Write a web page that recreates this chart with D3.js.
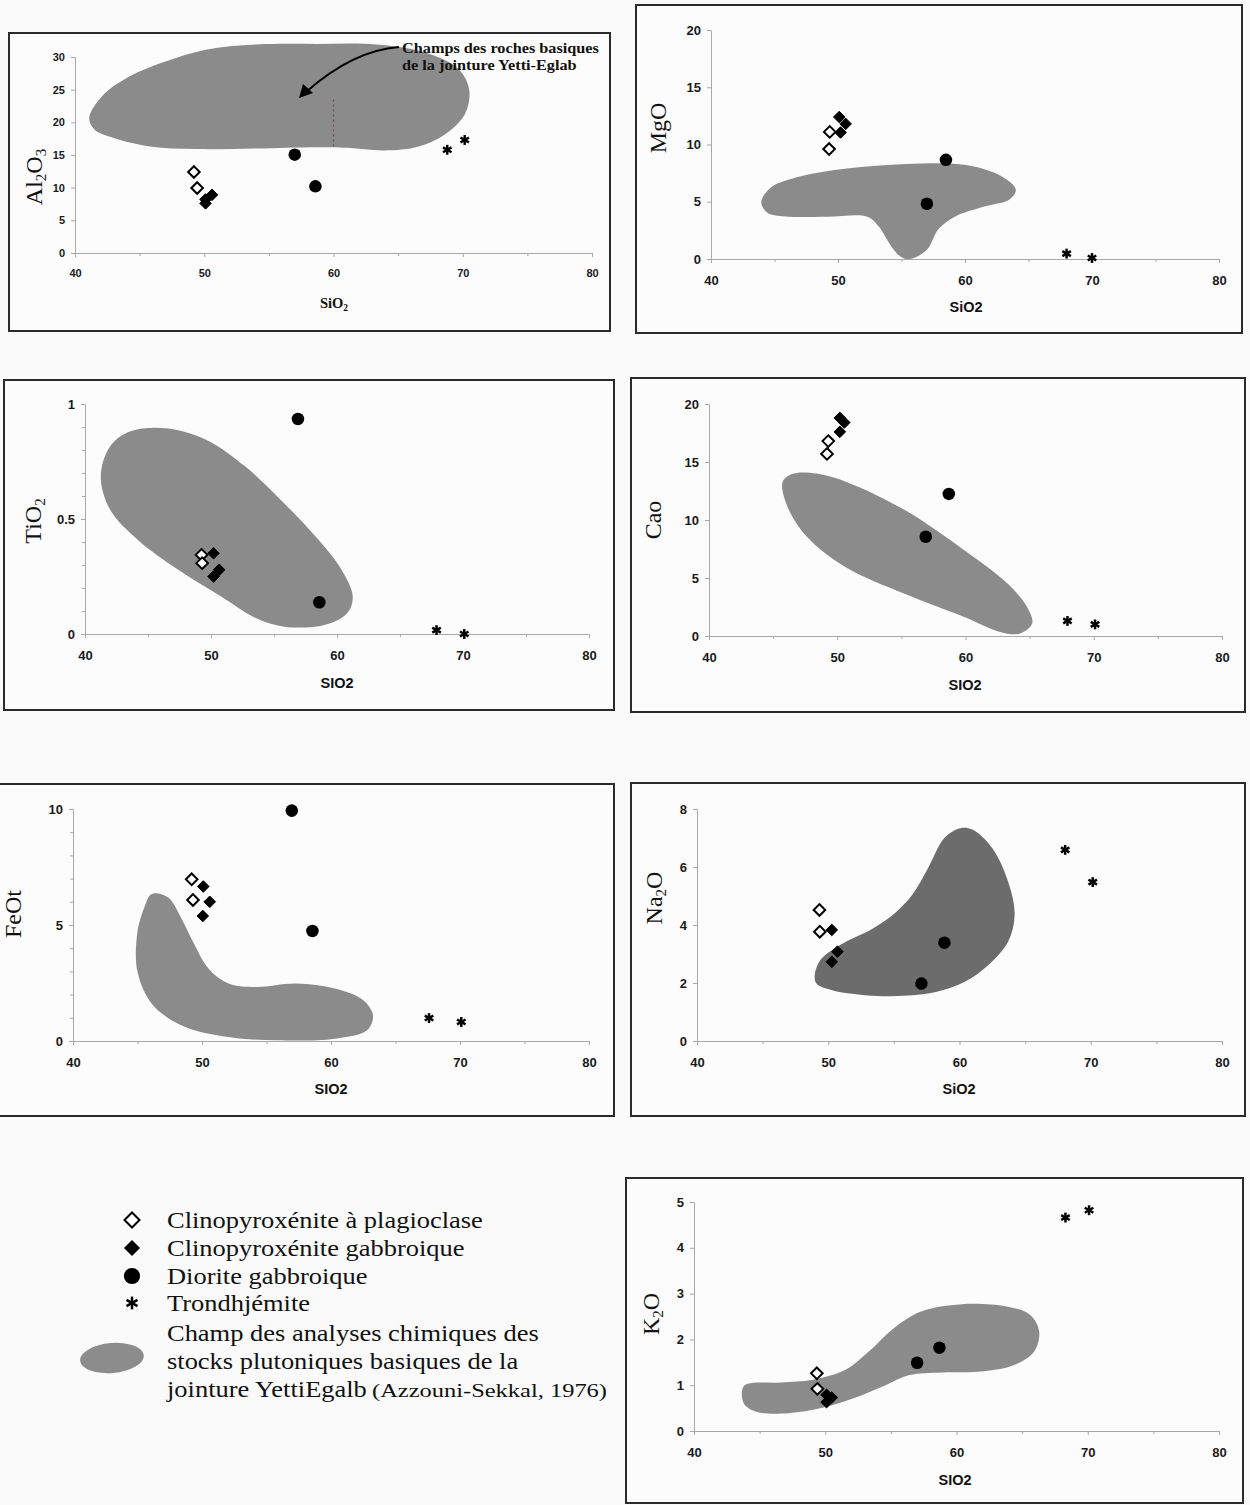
<!DOCTYPE html>
<html><head><meta charset="utf-8">
<script src="https://cdn.jsdelivr.net/npm/d3@7"></script>
<style>body{margin:0;background:#fafafa} svg{display:block}</style>
</head><body>
<svg id="fig" width="1250" height="1505"></svg>
<script>
// ---------------- DATA ----------------
const xTicks = [40, 50, 60, 70, 80];
const xMinorTicks = [45, 55, 65, 75];

const legendLabels = ["Clinopyroxénite à plagioclase", "Clinopyroxénite gabbroique", "Diorite gabbroique", "Trondhjémite"];
const legendGroups = ["plagio", "gabbroCpx", "diorite", "trond"];
const fieldLegendLines = ["Champ des analyses chimiques des", "stocks plutoniques basiques de la", "jointure YettiEgalb"];
const fieldLegendRef = "(Azzouni-Sekkal, 1976)";
const annotationLines = ["Champs des roches basiques", "de la jointure Yetti-Eglab"];

// points: [group, SiO2, oxide]
const al2o3Points = [["plagio",49.2,12.4],["plagio",49.45,9.95],["gabbroCpx",50.1,8.2],["gabbroCpx",50.6,8.9],["gabbroCpx",50.1,7.6],["diorite",57.0,15.05],["diorite",58.6,10.2],["trond",68.8,15.8],["trond",70.15,17.3]];
const mgoPoints = [["plagio",49.35,11.1],["plagio",49.3,9.6],["gabbroCpx",50.1,12.4],["gabbroCpx",50.6,11.8],["gabbroCpx",50.2,11.05],["diorite",58.5,8.66],["diorite",57.0,4.83],["trond",68.0,0.47],["trond",70.0,0.09]];
const tio2Points = [["plagio",49.25,0.344],["plagio",49.3,0.308],["gabbroCpx",50.2,0.351],["gabbroCpx",50.65,0.279],["gabbroCpx",50.2,0.25],["diorite",56.9,0.935],["diorite",58.6,0.138],["trond",67.9,0.017],["trond",70.1,0.0]];
const caoPoints = [["plagio",49.2,15.7],["plagio",49.3,16.8],["gabbroCpx",50.2,18.8],["gabbroCpx",50.55,18.4],["gabbroCpx",50.2,17.6],["diorite",58.7,12.25],["diorite",56.9,8.56],["trond",67.95,1.3],["trond",70.1,1.0]];
const feotPoints = [["plagio",49.2,6.97],["plagio",49.3,6.08],["gabbroCpx",50.1,6.66],["gabbroCpx",50.6,6.0],["gabbroCpx",50.06,5.39],["diorite",56.96,9.93],["diorite",58.56,4.74],["trond",67.6,0.99],["trond",70.1,0.82]];
const na2oPoints = [["plagio",49.33,4.52],["plagio",49.36,3.77],["gabbroCpx",50.27,3.83],["gabbroCpx",50.7,3.08],["gabbroCpx",50.27,2.73],["diorite",58.85,3.39],["diorite",57.1,1.98],["trond",68.05,6.59],["trond",70.15,5.48]];
const k2oPoints = [["plagio",49.36,1.26],["plagio",49.4,0.92],["gabbroCpx",50.1,0.79],["gabbroCpx",50.5,0.73],["gabbroCpx",50.1,0.63],["diorite",58.7,1.82],["diorite",57.0,1.49],["trond",68.3,4.66],["trond",70.1,4.82]];

// fields (Azzouni-Sekkal, 1976): [SiO2, oxide]
const al2o3Field = [[41.1,20.7],[42.1,24.0],[44.2,27.0],[47.0,29.3],[50.1,31.1],[54.0,31.9],[58.7,32.0],[63.3,31.9],[67.2,30.6],[69.7,28.1],[70.5,25.0],[70.2,21.4],[68.8,18.4],[66.6,16.3],[63.9,15.7],[61.1,16.1],[58.7,16.2],[54.0,16.0],[49.4,15.9],[45.8,16.3],[43.0,17.6],[41.5,18.9]];
const mgoField = [[44.0,5.2],[44.8,6.3],[47.0,7.2],[50.7,7.9],[55.4,8.3],[60.1,8.2],[62.9,7.2],[64.0,6.05],[63.5,5.2],[61.6,4.6],[59.2,3.7],[57.9,2.6],[57.0,0.8],[55.7,0.0],[55.0,0.15],[54.2,1.1],[53.2,2.85],[52.3,3.7],[49.2,3.7],[46.1,3.7],[44.5,4.0],[44.0,4.7]];
const tio2Field = [[41.25,0.685],[42.0,0.816],[43.6,0.881],[46.4,0.895],[49.6,0.845],[52.7,0.729],[55.8,0.569],[58.3,0.424],[60.2,0.293],[61.25,0.163],[60.8,0.09],[59.0,0.039],[55.8,0.032],[53.6,0.068],[50.8,0.163],[47.4,0.279],[44.2,0.409],[42.0,0.54]];
const caoField = [[45.75,13.3],[46.6,14.0],[48.4,14.0],[50.9,13.2],[55.2,10.9],[59.9,7.4],[63.3,4.5],[64.8,2.5],[65.2,1.07],[64.2,0.2],[62.7,0.35],[59.9,1.64],[55.2,3.66],[50.6,5.97],[47.6,8.6],[46.1,11.2]];
const feotField = [[46.5,6.37],[47.45,6.15],[48.4,5.29],[49.3,4.28],[50.5,3.13],[52.05,2.48],[54.2,2.33],[57.3,2.48],[60.3,2.26],[62.5,1.76],[63.25,1.11],[62.8,0.46],[60.3,0.1],[55.7,0.03],[52.05,0.17],[48.7,0.6],[46.2,1.54],[45.0,2.98],[45.0,4.71],[45.6,5.86],[46.0,6.3]];
const na2oField = [[48.97,2.27],[49.4,2.79],[50.9,3.31],[53.4,3.88],[55.2,4.46],[56.4,5.04],[57.6,5.96],[58.85,7.0],[60.06,7.34],[60.97,7.29],[62.5,6.65],[63.7,5.5],[64.2,4.35],[63.7,3.42],[62.2,2.62],[60.4,2.04],[58.2,1.69],[55.8,1.56],[52.8,1.58],[50.3,1.75],[49.1,1.98]];
const k2oField = [[43.7,0.93],[44.1,1.03],[46.6,1.06],[49.05,1.12],[51.5,1.33],[53.3,1.73],[55.2,2.24],[57.3,2.61],[60.4,2.77],[63.8,2.72],[65.6,2.54],[66.3,2.17],[65.9,1.73],[64.4,1.44],[61.9,1.30],[58.9,1.28],[56.4,1.22],[54.6,1.0],[52.1,0.71],[49.7,0.5],[47.2,0.39],[44.75,0.42],[43.8,0.6]];
const al2o3Dotted = [[60, 16.3], [60, 23.5]];

const al2o3Ticks = [0,5,10,15,20,25,30];
const mgoTicks = [0,5,10,15,20];
const tio2Ticks = [0,0.5,1];
const tio2Minor = [0.1,0.2,0.3,0.4,0.6,0.7,0.8,0.9];
const caoTicks = [0,5,10,15,20];
const feotTicks = [0,5,10];
const feotMinor = [1,2,3,4,6,7,8,9];
const na2oTicks = [0,2,4,6,8];
const k2oTicks = [0,1,2,3,4,5];

// ---------------- LAYOUT ----------------
const serif = "'Liberation Serif','Times New Roman',serif";
const sans = "'Liberation Sans',Arial,sans-serif";
const fieldGray = "#8b8b8b";
const panels = [
  {frame:[9,33,610,331], xr:[75,592], yr:[253,57], yd:[0,30], yTicks:al2o3Ticks, yMinor:[], points:al2o3Points, field:al2o3Field, fill:fieldGray,
   yTitle:[["Al",0],["2",1],["O",0],["3",1]], yT:[36,177], xTitle:[["SiO",0],["2",1]], xT:[334,305], xSerif:true, tickFont:11, xPad:12},
  {frame:[636,5,1242,333], xr:[711,1219], yr:[259,30], yd:[0,20], yTicks:mgoTicks, yMinor:[], points:mgoPoints, field:mgoField, fill:fieldGray,
   yTitle:[["MgO",0]], yT:[660,128], xTitle:[["SiO2",0]], xT:[966,308], tickFont:13, xPad:13},
  {frame:[4,380,614,710], xr:[85,589], yr:[634,404], yd:[0,1], yTicks:tio2Ticks, yMinor:tio2Minor, points:tio2Points, field:tio2Field, fill:fieldGray,
   yTitle:[["TiO",0],["2",1]], yT:[35,521], xTitle:[["SIO2",0]], xT:[337,684], tickFont:13, xPad:13},
  {frame:[631,378,1245,712], xr:[709,1222], yr:[636,404], yd:[0,20], yTicks:caoTicks, yMinor:[], points:caoPoints, field:caoField, fill:fieldGray,
   yTitle:[["Cao",0]], yT:[655,520], xTitle:[["SIO2",0]], xT:[965,686], tickFont:13, xPad:13},
  {frame:[-3,784,614,1116], xr:[73,589], yr:[1041,809], yd:[0,10], yTicks:feotTicks, yMinor:feotMinor, points:feotPoints, field:feotField, fill:fieldGray,
   yTitle:[["FeOt",0]], yT:[15,914], xTitle:[["SIO2",0]], xT:[331,1090], tickFont:13, xPad:13},
  {frame:[631,783,1245,1116], xr:[697,1222], yr:[1041,809], yd:[0,8], yTicks:na2oTicks, yMinor:[], points:na2oPoints, field:na2oField, fill:"#6c6c6c",
   yTitle:[["Na",0],["2",1],["O",0]], yT:[656,898], xTitle:[["SiO2",0]], xT:[959,1090], tickFont:13, xPad:13},
  {frame:[626,1178,1243,1503], xr:[694,1219], yr:[1431,1202], yd:[0,5], yTicks:k2oTicks, yMinor:[], points:k2oPoints, field:k2oField, fill:fieldGray,
   yTitle:[["K",0],["2",1],["O",0]], yT:[653,1314], xTitle:[["SIO2",0]], xT:[955,1481], tickFont:13, xPad:13}
];

const svg = d3.select("#fig");
svg.append("rect").attr("width",1250).attr("height",1505).attr("fill","#fafafa");

function stretch(sel, f) {
  sel.each(function(){ const w = this.getComputedTextLength(); d3.select(this).attr("textLength", w*f).attr("lengthAdjust","spacingAndGlyphs"); });
}

function marker(g, type, cx, cy, s) {
  if (type === "plagio" || type === "gabbroCpx") {
    g.append("path").attr("d", `M${cx},${cy-s}L${cx+s},${cy}L${cx},${cy+s}L${cx-s},${cy}Z`)
      .attr("fill", type === "plagio" ? "#fff" : "#000").attr("stroke","#000")
      .attr("stroke-width", type === "plagio" ? 2 : 1).attr("stroke-linejoin","miter");
  } else if (type === "diorite") {
    g.append("circle").attr("cx",cx).attr("cy",cy).attr("r",s*1.08).attr("fill","#000");
  } else {
    const L = s*0.85;
    [90, 30, -30].forEach(a => {
      const r = a*Math.PI/180, dx = Math.cos(r)*L, dy = Math.sin(r)*L;
      g.append("line").attr("x1",cx-dx).attr("y1",cy-dy).attr("x2",cx+dx).attr("y2",cy+dy)
        .attr("stroke","#000").attr("stroke-width",2.5).attr("stroke-linecap","butt");
    });
  }
}

function addRich(textSel, parts, mainSize, subSize) {
  parts.forEach(([t, sub], i) => {
    const prevSub = i > 0 && parts[i-1][1];
    const ts = textSel.append("tspan").text(t).attr("font-size", sub ? subSize : mainSize);
    if (sub) ts.attr("dy", mainSize*0.3);
    else if (prevSub) ts.attr("dy", -mainSize*0.3);
  });
}

panels.forEach((p, idx) => {
  const g = svg.append("g");
  const [fx0, fy0, fx1, fy1] = p.frame;
  g.append("rect").attr("x",fx0).attr("y",fy0).attr("width",fx1-fx0).attr("height",fy1-fy0)
    .attr("fill","#fcfcfc").attr("stroke","#2b2b2b").attr("stroke-width",2);

  const x = d3.scaleLinear().domain([40,80]).range(p.xr);
  const y = d3.scaleLinear().domain(p.yd).range(p.yr);

  // field
  const line = d3.line().x(d => x(d[0])).y(d => y(d[1])).curve(d3.curveCatmullRomClosed.alpha(0.5));
  g.append("path").attr("d", line(p.field)).attr("fill", p.fill).attr("stroke","none");

  if (idx === 0) {
    g.append("line").attr("x1",x(al2o3Dotted[0][0])).attr("x2",x(al2o3Dotted[1][0]))
      .attr("y1",y(al2o3Dotted[0][1])).attr("y2",y(al2o3Dotted[1][1]))
      .attr("stroke","#6a5050").attr("stroke-width",1.2).attr("stroke-dasharray","2,3");
  }

  // axes
  const styleAxis = (sel) => {
    sel.select(".domain").attr("stroke","#a8a8a8").attr("stroke-width",1);
    sel.selectAll(".tick line").attr("stroke","#a8a8a8");
    sel.selectAll(".tick text").attr("fill","#1a1a1a").attr("font-family",sans)
      .attr("font-size",p.tickFont).attr("font-weight","bold");
  };
  const gx = g.append("g").attr("transform",`translate(0,${p.yr[0]})`)
    .call(d3.axisBottom(x).tickValues(xTicks).tickSize(4).tickSizeOuter(0).tickPadding(p.xPad).tickFormat(d3.format("d")));
  styleAxis(gx);
  const gxm = g.append("g").attr("transform",`translate(0,${p.yr[0]})`)
    .call(d3.axisBottom(x).tickValues(xMinorTicks).tickSize(3).tickSizeOuter(0).tickFormat(""));
  gxm.select(".domain").remove(); gxm.selectAll(".tick line").attr("stroke","#a8a8a8");

  const gy = g.append("g").attr("transform",`translate(${p.xr[0]},0)`)
    .call(d3.axisLeft(y).tickValues(p.yTicks).tickSize(4).tickSizeOuter(0).tickPadding(6).tickFormat(d => String(d)));
  styleAxis(gy);
  if (p.yMinor.length) {
    const gym = g.append("g").attr("transform",`translate(${p.xr[0]},0)`)
      .call(d3.axisLeft(y).tickValues(p.yMinor).tickSize(3).tickSizeOuter(0).tickFormat(""));
    gym.select(".domain").remove(); gym.selectAll(".tick line").attr("stroke","#a8a8a8");
  }

  // titles
  const yt = g.append("text").attr("transform",`translate(${p.yT[0]},${p.yT[1]}) rotate(-90)`)
    .attr("text-anchor","middle").attr("dominant-baseline","middle")
    .attr("font-family",serif).attr("font-size",24).attr("fill","#111");
  addRich(yt, p.yTitle, 24, 15);

  const xt = g.append("text").attr("x",p.xT[0]).attr("y",p.xT[1]).attr("text-anchor","middle")
    .attr("dominant-baseline","middle").attr("fill","#111")
    .attr("font-family", p.xSerif ? serif : sans).attr("font-weight","bold");
  addRich(xt, p.xTitle, p.xSerif ? 14.5 : 14.5, 9.5);

  // points
  const pg = g.append("g");
  p.points.forEach(d => marker(pg, d[0], x(d[1]), y(d[2]), 5.8));

  if (idx === 0) {
    // annotation
    annotationLines.forEach((t, i) => {
      g.append("text").attr("x",402).attr("y",53 + i*17).text(t)
        .attr("font-family",serif).attr("font-weight","bold").attr("font-size",14.5).attr("fill","#111")
        .call(s => stretch(s, 1.12));
    });
    g.append("path").attr("d","M399,47 C372,49 340,62 306,92").attr("fill","none")
      .attr("stroke","#000").attr("stroke-width",2);
    g.append("path").attr("d","M299,98 L303,84 L313,93 Z").attr("fill","#000");
  }
});

// ---------------- LEGEND ----------------
const lg = svg.append("g");
const legendY = [1220, 1248, 1276, 1303];
legendGroups.forEach((grp, i) => {
  marker(lg, grp, 132, legendY[i], 7.5);
  lg.append("text").attr("x",167).attr("y",legendY[i]+8).text(legendLabels[i])
    .attr("font-family",serif).attr("font-size",23).attr("fill","#111").call(s => stretch(s, 1.15));
});
lg.append("ellipse").attr("cx",112).attr("cy",1358).attr("rx",32).attr("ry",15)
  .attr("transform","rotate(-5,112,1358)").attr("fill","#8c8c8c");
fieldLegendLines.forEach((t, i) => {
  lg.append("text").attr("x",167).attr("y",1341 + i*28).text(t)
    .attr("font-family",serif).attr("font-size",23).attr("fill","#111").call(s => stretch(s, 1.15));
});
lg.append("text").attr("x",372).attr("y",1397).text(fieldLegendRef)
  .attr("font-family",serif).attr("font-size",19).attr("fill","#111").attr("textLength",235).attr("lengthAdjust","spacingAndGlyphs");
</script>
</body></html>
